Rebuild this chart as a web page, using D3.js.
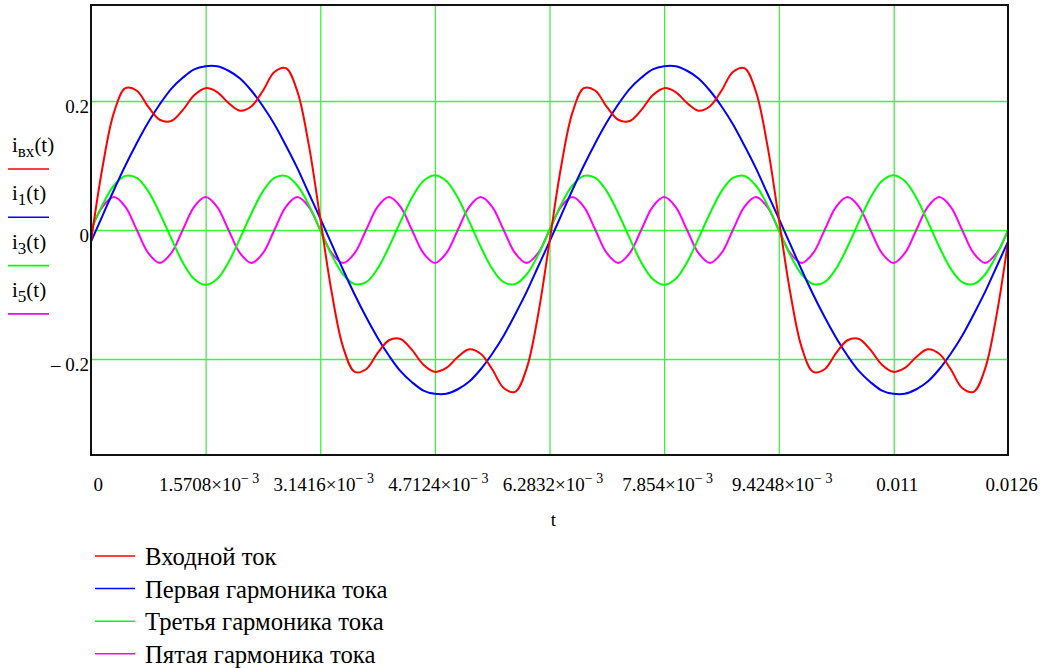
<!DOCTYPE html>
<html>
<head>
<meta charset="utf-8">
<script src="https://cdn.jsdelivr.net/npm/d3@7"></script>
<style>
  body { margin: 0; background: #fff; }
</style>
</head>
<body>
<div id="chart"></div>
<script>
// sampling step of the curves, s (pi/20 * 1e-3)
var tStep = 1.5708e-4;

// values, one per sample, k = 0..80
var iVx = [-0.018, 0.097, 0.182, 0.220, 0.216, 0.191, 0.171, 0.169, 0.186, 0.209, 0.220, 0.214, 0.197, 0.185, 0.192, 0.216, 0.245, 0.251, 0.215, 0.132,
    0.018, -0.097, -0.182, -0.220, -0.216, -0.191, -0.171, -0.169, -0.186, -0.209, -0.220, -0.214, -0.197, -0.185, -0.192, -0.216, -0.245, -0.251, -0.215, -0.132,
    -0.018, 0.097, 0.182, 0.220, 0.216, 0.191, 0.171, 0.169, 0.186, 0.209, 0.220, 0.214, 0.197, 0.185, 0.192, 0.216, 0.245, 0.251, 0.215, 0.132,
    0.018, -0.097, -0.182, -0.220, -0.216, -0.191, -0.171, -0.169, -0.186, -0.209, -0.220, -0.214, -0.197, -0.185, -0.192, -0.216, -0.245, -0.251, -0.215, -0.132,
    -0.018];
var i1 = [-0.018, 0.022, 0.062, 0.100, 0.135, 0.167, 0.195, 0.219, 0.236, 0.249, 0.254, 0.254, 0.247, 0.235, 0.216, 0.192, 0.164, 0.131, 0.096, 0.057,
    0.018, -0.022, -0.062, -0.100, -0.135, -0.167, -0.195, -0.219, -0.236, -0.249, -0.254, -0.254, -0.247, -0.235, -0.216, -0.192, -0.164, -0.131, -0.096, -0.057,
    -0.018, 0.022, 0.062, 0.100, 0.135, 0.167, 0.195, 0.219, 0.236, 0.249, 0.254, 0.254, 0.247, 0.235, 0.216, 0.192, 0.164, 0.131, 0.096, 0.057,
    0.018, -0.022, -0.062, -0.100, -0.135, -0.167, -0.195, -0.219, -0.236, -0.249, -0.254, -0.254, -0.247, -0.235, -0.216, -0.192, -0.164, -0.131, -0.096, -0.057,
    -0.018];
var i3 = [0, 0.039, 0.069, 0.084, 0.081, 0.060, 0.026, -0.013, -0.050, -0.076, -0.085, -0.076, -0.050, -0.013, 0.026, 0.060, 0.081, 0.084, 0.069, 0.039,
    0, -0.039, -0.069, -0.084, -0.081, -0.060, -0.026, 0.013, 0.050, 0.076, 0.085, 0.076, 0.050, 0.013, -0.026, -0.060, -0.081, -0.084, -0.069, -0.039,
    0, 0.039, 0.069, 0.084, 0.081, 0.060, 0.026, -0.013, -0.050, -0.076, -0.085, -0.076, -0.050, -0.013, 0.026, 0.060, 0.081, 0.084, 0.069, 0.039,
    0, -0.039, -0.069, -0.084, -0.081, -0.060, -0.026, 0.013, 0.050, 0.076, 0.085, 0.076, 0.050, 0.013, -0.026, -0.060, -0.081, -0.084, -0.069, -0.039,
    0];
var i5 = [0, 0.036, 0.051, 0.036, 0, -0.036, -0.051, -0.036, 0, 0.036, 0.051, 0.036, 0, -0.036, -0.051, -0.036, 0, 0.036, 0.051, 0.036,
    0, -0.036, -0.051, -0.036, 0, 0.036, 0.051, 0.036, 0, -0.036, -0.051, -0.036, 0, 0.036, 0.051, 0.036, 0, -0.036, -0.051, -0.036,
    0, 0.036, 0.051, 0.036, 0, -0.036, -0.051, -0.036, 0, 0.036, 0.051, 0.036, 0, -0.036, -0.051, -0.036, 0, 0.036, 0.051, 0.036,
    0, -0.036, -0.051, -0.036, 0, 0.036, 0.051, 0.036, 0, -0.036, -0.051, -0.036, 0, 0.036, 0.051, 0.036, 0, -0.036, -0.051, -0.036,
    0];

var xTicks = [0, 1.5708e-3, 3.1416e-3, 4.7124e-3, 6.2832e-3, 7.854e-3, 9.4248e-3, 0.011, 0.012566];
var xTickMant = ["0", "1.5708\u00d710", "3.1416\u00d710", "4.7124\u00d710", "6.2832\u00d710", "7.854\u00d710", "9.4248\u00d710", "0.011", "0.0126"];
var xTickExp = ["", "\u2212 3", "\u2212 3", "\u2212 3", "\u2212 3", "\u2212 3", "\u2212 3", "", ""];
var yTicks = [-0.2, 0, 0.2];
var yTickLabels = ["\u2013 0.2", "0", "0.2"];

var seriesNames = ["i", "i", "i", "i"];
var seriesSubs = ["\u0432\u0445", "1", "3", "5"];
var legendNames = ["Входной ток", "Первая гармоника тока", "Третья гармоника тока", "Пятая гармоника тока"];
var colors = ["#ff0000", "#0000ff", "#00ff00", "#ff00ff"];

var width = 1043, height = 668;
var plot = {left: 91, right: 1008, top: 5, bottom: 455};

var svg = d3.select("#chart").append("svg")
    .attr("width", width)
    .attr("height", height);

var x = d3.scaleLinear().domain([0, 0.012566]).range([plot.left, plot.right]);
var y = d3.scaleLinear().domain([-0.349, 0.349]).range([plot.bottom, plot.top]);

// grid
svg.append("g")
    .attr("transform", "translate(0," + plot.bottom + ")")
    .call(d3.axisBottom(x).tickValues(xTicks.slice(1, -1)).tickSize(-(plot.bottom - plot.top)).tickFormat(""))
    .call(function (g) { g.select(".domain").remove(); })
    .selectAll("line").attr("stroke", "#33ee33").attr("stroke-width", 1.2);

svg.append("g")
    .attr("transform", "translate(" + plot.left + ",0)")
    .call(d3.axisLeft(y).tickValues(yTicks).tickSize(-(plot.right - plot.left)).tickFormat(""))
    .call(function (g) { g.select(".domain").remove(); })
    .selectAll("line").attr("stroke", "#44f044").attr("stroke-width", 1.6);

// curves
svg.append("clipPath").attr("id", "clip")
    .append("rect")
    .attr("x", plot.left).attr("y", plot.top)
    .attr("width", plot.right - plot.left).attr("height", plot.bottom - plot.top);

var series = [iVx, i1, i3, i5];
var line = d3.line()
    .x(function (d, i) { return x(i * tStep); })
    .y(function (d) { return y(d); })
    .curve(d3.curveCatmullRom.alpha(0.5));

svg.append("g").attr("clip-path", "url(#clip)")
    .selectAll("path")
    .data([3, 2, 1, 0])
    .enter()
    .append("path")
    .attr("d", function (s) { return line(series[s]); })
    .attr("fill", "none")
    .attr("stroke", function (s) { return colors[s]; })
    .attr("stroke-width", 2);

// frame
svg.append("rect")
    .attr("x", plot.left).attr("y", plot.top)
    .attr("width", plot.right - plot.left).attr("height", plot.bottom - plot.top)
    .attr("fill", "none")
    .attr("stroke", "#111")
    .attr("stroke-width", 2);

// x tick labels
var xLab = svg.append("g")
    .attr("transform", "translate(0," + plot.bottom + ")")
    .call(d3.axisBottom(x).tickValues(xTicks).tickSize(0).tickPadding(0).tickFormat(""));
xLab.select(".domain").remove();
xLab.selectAll(".tick text")
    .attr("y", 36)
    .attr("dy", null)
    .attr("fill", "#000")
    .style("font-size", "19px")
    .attr("text-anchor", function (d, i) { return i === 0 ? "start" : "middle"; })
    .attr("x", function (d, i) { return i === 0 ? 2 : 3; })
    .each(function (d, i) {
        var t = d3.select(this);
        t.append("tspan").text(xTickMant[i]);
        if (xTickExp[i]) {
            t.append("tspan").attr("dy", -8).style("font-size", "14px").text(xTickExp[i]);
        }
    });

svg.append("text")
    .attr("x", x(0.006283) + 4)
    .attr("y", 526)
    .attr("text-anchor", "middle")
    .style("font-size", "19px")
    .text("t");

// y tick labels
var yLab = svg.append("g")
    .attr("transform", "translate(" + plot.left + ",0)")
    .call(d3.axisLeft(y).tickValues(yTicks).tickSize(0).tickPadding(2)
        .tickFormat(function (d, i) { return yTickLabels[i]; }));
yLab.select(".domain").remove();
yLab.selectAll(".tick text")
    .attr("dy", "0.62em")
    .attr("fill", "#000")
    .style("font-size", "19px");

// left legend (series names)
var leftLeg = svg.append("g").selectAll("g")
    .data(d3.range(4))
    .enter()
    .append("g")
    .attr("transform", function (d) { return "translate(8," + (152 + d * 48.3) + ")"; });

var nameText = leftLeg.append("text")
    .attr("x", 4)
    .style("font-size", "21px");
nameText.append("tspan").text(function (d) { return seriesNames[d]; });
nameText.append("tspan").attr("dy", 5).style("font-size", "17px").text(function (d) { return seriesSubs[d]; });
nameText.append("tspan").attr("dy", -5).text("(t)");

leftLeg.append("line")
    .attr("x1", 0).attr("x2", 41)
    .attr("y1", 17).attr("y2", 17)
    .attr("stroke", function (d) { return colors[d]; })
    .attr("stroke-width", 1.6);

// bottom legend
var botLeg = svg.append("g").selectAll("g")
    .data(d3.range(4))
    .enter()
    .append("g")
    .attr("transform", function (d) { return "translate(95," + (556 + d * 32.6) + ")"; });

botLeg.append("line")
    .attr("x1", 0).attr("x2", 40)
    .attr("stroke", function (d) { return colors[d]; })
    .attr("stroke-width", 1.5);

botLeg.append("text")
    .attr("x", 50)
    .attr("y", 9)
    .style("font-size", "24.7px")
    .text(function (d) { return legendNames[d]; });

svg.selectAll("text").style("font-family", "'Liberation Serif'");
</script>
</body>
</html>
